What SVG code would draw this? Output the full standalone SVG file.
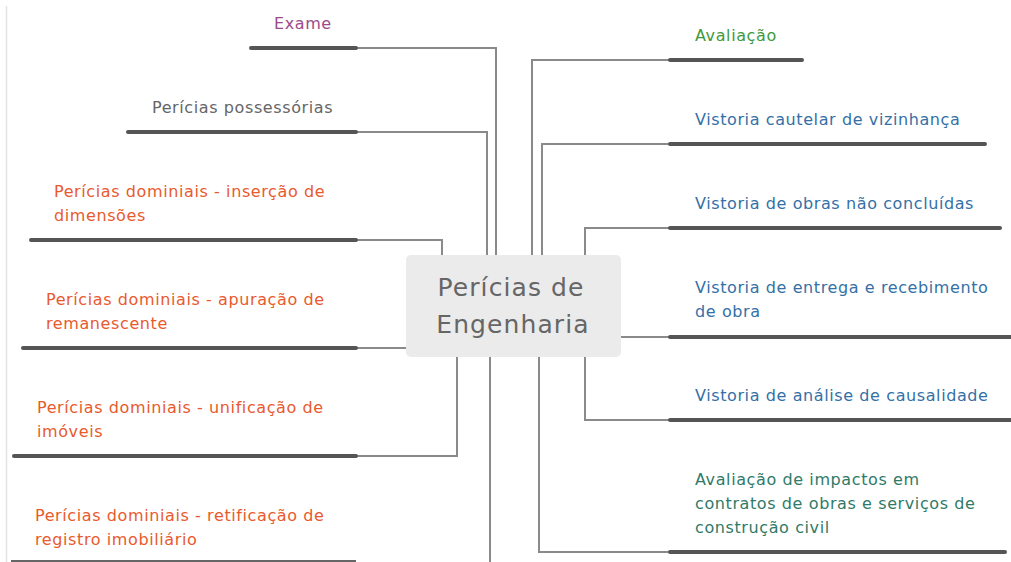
<svg xmlns="http://www.w3.org/2000/svg" width="1011" height="562" viewBox="0 0 1011 562">
  <style>
    .lbl { font-family: "DejaVu Sans", "Liberation Sans", sans-serif; font-size: 16px; letter-spacing: 0.6px; }
    .orange { fill: #e85a2e; }
    .blue { fill: #3470a6; }
    .teal { fill: #2f7a68; }
    .green { fill: #3f9a3c; }
    .purple { fill: #9a4a88; }
    .gray { fill: #666666; }
    .bar { stroke: #555555; stroke-width: 4; stroke-linecap: round; fill: none; }
    .conn { stroke: #8a8a8a; stroke-width: 2; fill: none; }
    .center { font-family: "DejaVu Sans", "Liberation Sans", sans-serif; font-size: 25px; letter-spacing: 1.1px; fill: #666666; text-anchor: middle; }
  </style>
  <rect x="0" y="0" width="1011" height="562" fill="#ffffff"/>
  <line x1="6.5" y1="6" x2="6.5" y2="562" stroke="#e2e2e2" stroke-width="1.5"/>

  <g id="connectors">
    <polyline class="conn" points="356,48 496,48 496,255"/>
    <polyline class="conn" points="356,132 487,132 487,255"/>
    <polyline class="conn" points="356,240 442,240 442,255"/>
    <polyline class="conn" points="356,348 406,348"/>
    <polyline class="conn" points="356,456 457,456 457,357"/>
    <polyline class="conn" points="490,357 490,562"/>
    <polyline class="conn" points="670,60 532,60 532,255"/>
    <polyline class="conn" points="670,144 542,144 542,255"/>
    <polyline class="conn" points="670,228 585,228 585,255"/>
    <polyline class="conn" points="621,337 670,337"/>
    <polyline class="conn" points="670,420 585,420 585,357"/>
    <polyline class="conn" points="670,552 539,552 539,357"/>
  </g>

  <g id="center">
    <rect x="406" y="255" width="215" height="102" rx="5" fill="#ebebeb"/>
    <text class="center" x="511" y="296">Perícias de</text>
    <text class="center" x="513" y="333">Engenharia</text>
  </g>

  <g id="exame">
    <line class="bar" x1="251" y1="48" x2="356" y2="48"/>
    <text class="lbl purple" x="274" y="29">Exame</text>
  </g>
  <g id="possessorias">
    <line class="bar" x1="128" y1="132" x2="356" y2="132"/>
    <text class="lbl gray" x="152" y="113">Perícias possessórias</text>
  </g>
  <g id="insercao">
    <line class="bar" x1="31" y1="240" x2="356" y2="240"/>
    <text class="lbl orange" x="54" y="197">Perícias dominiais - inserção de</text>
    <text class="lbl orange" x="54" y="221">dimensões</text>
  </g>
  <g id="apuracao">
    <line class="bar" x1="23" y1="348" x2="356" y2="348"/>
    <text class="lbl orange" x="46" y="305">Perícias dominiais - apuração de</text>
    <text class="lbl orange" x="46" y="329">remanescente</text>
  </g>
  <g id="unificacao">
    <line class="bar" x1="14" y1="456" x2="356" y2="456"/>
    <text class="lbl orange" x="37" y="413">Perícias dominiais - unificação de</text>
    <text class="lbl orange" x="37" y="437">imóveis</text>
  </g>
  <g id="retificacao">
    <line x1="11" y1="561" x2="356" y2="561" stroke="#666" stroke-width="2"/>
    <text class="lbl orange" x="35" y="521">Perícias dominiais - retificação de</text>
    <text class="lbl orange" x="35" y="545">registro imobiliário</text>
  </g>

  <g id="avaliacao">
    <line class="bar" x1="670" y1="60" x2="802" y2="60"/>
    <text class="lbl green" x="695" y="41">Avaliação</text>
  </g>
  <g id="cautelar">
    <line class="bar" x1="670" y1="144" x2="985" y2="144"/>
    <text class="lbl blue" x="695" y="125">Vistoria cautelar de vizinhança</text>
  </g>
  <g id="nao-concluidas">
    <line class="bar" x1="670" y1="228" x2="1000" y2="228"/>
    <text class="lbl blue" x="695" y="209">Vistoria de obras não concluídas</text>
  </g>
  <g id="entrega">
    <line class="bar" x1="670" y1="337" x2="1013" y2="337"/>
    <text class="lbl blue" x="695" y="293">Vistoria de entrega e recebimento</text>
    <text class="lbl blue" x="695" y="317">de obra</text>
  </g>
  <g id="causalidade">
    <line class="bar" x1="670" y1="420" x2="1013" y2="420"/>
    <text class="lbl blue" x="695" y="401">Vistoria de análise de causalidade</text>
  </g>
  <g id="impactos">
    <line class="bar" x1="670" y1="552" x2="1005" y2="552"/>
    <text class="lbl teal" x="695" y="485">Avaliação de impactos em</text>
    <text class="lbl teal" x="695" y="509">contratos de obras e serviços de</text>
    <text class="lbl teal" x="695" y="533">construção civil</text>
  </g>
</svg>
